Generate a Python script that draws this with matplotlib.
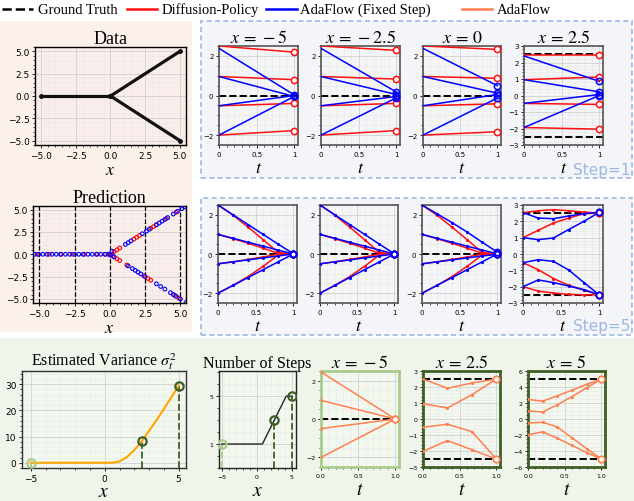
import numpy as np
import matplotlib.pyplot as plt
from matplotlib.patches import Rectangle
from matplotlib.lines import Line2D
from matplotlib.ticker import AutoMinorLocator, MultipleLocator

plt.rcParams['mathtext.fontset'] = 'stix'
SERIF = 'Liberation Serif'

W, H = 634, 502

# ---------------- data ----------------
# Data panel (training data branches)
data_left_x = [-5.0, 0.0]
data_left_y = [0.0, 0.0]
data_up_x = [0.0, 5.0]
data_up_y = [0.0, 5.0]
data_dn_x = [0.0, 5.0]
data_dn_y = [0.0, -5.0]

# Prediction panel scatter
pred_blue_x = [-5.35, -5.05, -4.75, -4.45, -4.1, -3.8, -3.5, -3.15, -2.85, -2.5, -2.2, -1.9,
               -1.55, -1.25, -0.95, -0.65, -0.35, -0.1,
               0.15, 1.1, 1.3, 1.5, 2.3, 2.6, 2.8, 3.3, 3.5, 3.7, 3.9, 4.1, 4.5, 4.8, 5.1, 5.3,
               0.05, 0.3, 1.3, 1.6, 1.8, 2.0, 2.2, 2.5, 3.3, 3.6, 3.9, 4.3, 4.5, 4.7, 5.0, 5.4]
pred_blue_y = [0.0] * 18 + \
              [0.35, 1.1, 1.3, 1.5, 2.3, 2.6, 2.8, 3.3, 3.5, 3.7, 3.9, 4.1, 4.5, 4.8, 5.1, 5.3] + \
              [-0.1, -0.3, -1.3, -1.6, -1.8, -2.0, -2.2, -2.5, -3.3, -3.6, -3.9, -4.3, -4.5, -4.7, -5.0, -5.4]
pred_red_x = [-5.15, -4.3, -3.45, -2.65, -1.8, -0.9, -0.3, 0.0,
              0.3, 0.5, 0.7, 1.7, 1.9, 2.1, 2.9, 3.1, 3.3, 4.0, 4.7,
              0.2, 0.5, 0.7, 1.2, 2.4, 2.7, 2.9, 4.6, 4.9]
pred_red_y = [0.0] * 8 + \
             [0.3, 0.5, 0.7, 1.7, 1.9, 2.1, 2.9, 3.1, 3.3, 4.0, 4.7] + \
             [-0.2, -0.5, -0.7, -1.2, -2.4, -2.7, -2.9, -4.6, -4.9]

# Step=1 panels
cond_titles = ['$x\\,=\\,-5$', '$x\\,=\\,-2.5$', '$x\\,=\\,0$', '$x\\,=\\,2.5$']
t_one = [0.0, 1.0]
s1_red_start = [[2.5, 0.96, -0.52, -2.0], [2.5, 0.96, -0.52, -2.0],
                [2.5, 0.96, -0.52, -2.0], [2.48, 0.96, -0.48, -1.94]]
s1_red_end = [[2.19, 0.8, -0.4, -1.77], [2.28, 0.83, -0.4, -1.77],
              [2.33, 0.87, -0.42, -1.83], [2.48, 1.12, -0.54, -2.04]]
s1_blue_start = [[2.38, 0.96, -0.52, -2.0], [2.38, 0.96, -0.52, -2.0],
                 [2.38, 0.96, -0.52, -2.0], [2.4, 0.96, -0.48, -1.94]]
s1_blue_end = [[0.03, -0.05, 0.0, -0.05], [0.18, 0.05, -0.05, -0.12],
               [0.5, 0.12, 0.05, -0.13], [0.86, 0.22, 0.06, 0.0]]
gt_levels = [[0.0], [0.0], [0.0], [2.5, -2.5]]
ylims = [(-2.5, 2.5), (-2.5, 2.5), (-2.5, 2.5), (-3, 3)]

# Step=5 panels
t_five = [0.0, 0.2, 0.4, 0.6, 0.8, 1.0]
red5_conv = [[2.5, 1.98, 1.37, 0.73, 0.08, 0.0],
             [1.0, 0.78, 0.55, 0.3, 0.03, 0.0],
             [-0.5, -0.4, -0.28, -0.15, -0.01, 0.0],
             [-2.0, -1.6, -1.15, -0.63, -0.05, 0.0]]
blue5_conv = [[2.5, 2.0, 1.5, 1.0, 0.5, 0.02],
              [1.0, 0.8, 0.6, 0.4, 0.2, 0.0],
              [-0.5, -0.4, -0.3, -0.2, -0.1, 0.0],
              [-2.0, -1.6, -1.2, -0.8, -0.4, 0.0]]
blue5_x0 = [[2.5, 2.05, 1.6, 1.12, 0.6, 0.1],
            [1.0, 0.8, 0.6, 0.4, 0.2, 0.02],
            [-0.5, -0.4, -0.3, -0.2, -0.1, -0.02],
            [-2.0, -1.6, -1.2, -0.8, -0.4, 0.0]]
red5_split = [[2.53, 2.65, 2.71, 2.65, 2.57, 2.5],
              [1.0, 1.45, 1.9, 2.2, 2.47, 2.5],
              [-0.53, -0.96, -1.5, -1.92, -2.22, -2.5],
              [-2.0, -2.27, -2.39, -2.47, -2.5, -2.5]]
blue5_split = [[2.53, 2.2, 2.16, 2.33, 2.47, 2.55],
               [1.0, 0.88, 0.98, 1.5, 2.0, 2.55],
               [-0.53, -0.35, -0.45, -0.98, -1.75, -2.5],
               [-2.0, -1.59, -1.75, -1.96, -2.18, -2.5]]

# Bottom row
var_x = [-5.0, 0.0, 0.5, 1.0, 1.5, 2.0, 2.5, 3.0, 3.5, 4.0, 4.5, 5.0]
var_y = [0.0, 0.0, 0.0, 0.5, 2.2, 4.8, 8.2, 12.2, 16.2, 20.5, 24.9, 29.4]
mark_x = [-5.0, 2.5, 5.0]
var_mark_y = [0.0, 8.2, 29.4]
steps_x = [-5.0, 0.8, 4.2, 5.0]
steps_y = [1, 1, 5, 5]
steps_mark_y = [1, 3, 5]

ada_t_a = [0.0, 1.0]
ada_a = [[2.45, 0.0], [0.97, 0.0], [-0.5, 0.0], [-2.0, 0.0]]
ada_t_b = [0.0, 0.333, 0.667, 1.0]
ada_b = [[2.5, 1.92, 2.25, 2.5], [0.96, 0.69, 1.52, 2.5],
         [-0.52, -0.33, -0.79, -2.5], [-2.02, -1.35, -1.92, -2.5]]
ada_t_c = [0.0, 0.2, 0.4, 0.6, 0.8, 1.0]
ada_c = [[2.44, 2.23, 2.9, 3.6, 4.34, 5.0], [1.03, 0.87, 1.78, 2.8, 3.9, 5.0],
         [-0.5, -0.41, -1.0, -2.36, -3.7, -5.0], [-1.98, -1.6, -2.4, -3.3, -4.2, -5.0]]

RED = '#ff1010'
BLUE = '#0000ff'
CORAL = '#ff7f50'
LGREEN = '#a9cc8c'
DGREEN = '#3d5f25'

fig = plt.figure(figsize=(W / 100, H / 100), dpi=100)


def px_axes(l, t, r, b):
    return fig.add_axes([l / W, 1 - b / H, (r - l) / W, (b - t) / H])


def bg(l, t, r, b, fc, ec='none', ls='-'):
    fig.add_artist(Rectangle((l / W, 1 - b / H), (r - l) / W, (b - t) / H,
                             transform=fig.transFigure, facecolor=fc, edgecolor=ec,
                             linestyle=ls, lw=1.2, zorder=-5))


bg(0, 22, 192, 333, '#fcf0eb')
bg(201, 22, 632, 179, '#f3f5f8', '#9db7e2', (0, (3, 2)))
bg(201, 199, 632, 336, '#f3f5f8', '#9db7e2', (0, (3, 2)))
bg(0, 339, 634, 502, '#eff5ea')


def style(ax, fs, face, spine='#555555', slw=1.2):
    ax.set_facecolor(face)
    ax.xaxis.set_minor_locator(AutoMinorLocator())
    ax.yaxis.set_minor_locator(AutoMinorLocator())
    ax.grid(True, which='major', color='#d0d0d0', lw=0.6)
    ax.grid(True, which='minor', color='#e8e8e8', lw=0.4)
    ax.set_axisbelow(True)
    ax.tick_params(labelsize=fs, length=2.5, width=0.6, pad=1.5)
    ax.tick_params(which='minor', length=1.5, width=0.5)
    for s in ax.spines.values():
        s.set_color(spine)
        s.set_linewidth(slw)


# ---- Data panel
ax = px_axes(35, 48, 186, 146)
style(ax, 6.5, '#fbeeea', 'black', 1.0)
for xs, ys in [(data_left_x, data_left_y), (data_up_x, data_up_y), (data_dn_x, data_dn_y)]:
    ax.plot(xs, ys, color='#111111', lw=2.3, marker='o', ms=2.5, solid_capstyle='round')
ax.set_xlim(-5.45, 5.45)
ax.set_ylim(-5.5, 5.5)
ax.set_xticks([-5, -2.5, 0, 2.5, 5])
ax.set_yticks([-5, -2.5, 0, 2.5, 5])
ax.set_title('Data', family=SERIF, fontsize=13, pad=3)
ax.set_xlabel('$x$', fontsize=13, labelpad=0)

# ---- Prediction panel
ax = px_axes(33, 207, 186, 304)
style(ax, 6.5, '#fbeeea', 'black', 1.0)
for xv in [-5, -2.5, 0, 2.5, 5]:
    ax.axvline(xv, color='black', ls='--', lw=0.9, zorder=1)
ax.scatter(pred_red_x, pred_red_y, s=7, facecolors='none', edgecolors='red', lw=0.8, zorder=3)
ax.scatter(pred_blue_x, pred_blue_y, s=7, facecolors='none', edgecolors='blue', lw=0.8, zorder=4)
ax.set_xlim(-5.45, 5.4)
ax.set_ylim(-5.45, 5.4)
ax.set_xticks([-5, -2.5, 0, 2.5, 5])
ax.set_yticks([-5, -2.5, 0, 2.5, 5])
ax.set_title('Prediction', family=SERIF, fontsize=13, pad=3)
ax.set_xlabel('$x$', fontsize=13, labelpad=0)

# ---- Step=1 row
s1_l = [219, 321, 423, 524]
s1_r = [298, 400, 501, 603]
for i in range(4):
    ax = px_axes(s1_l[i], 47, s1_r[i], 146)
    style(ax, 5, '#f4f5f7')
    for lv in gt_levels[i]:
        ax.axhline(lv, color='black', ls='--', lw=1.4, zorder=2)
    for a, b in zip(s1_red_start[i], s1_red_end[i]):
        ax.plot(t_one, [a, b], color=RED, lw=1.1, zorder=3)
        ax.plot(1, b, 'o', ms=4.5, mfc='white', mec=RED, mew=1.1, zorder=5)
    for a, b in zip(s1_blue_start[i], s1_blue_end[i]):
        ax.plot(t_one, [a, b], color=BLUE, lw=1.1, zorder=4)
        ax.plot(1, b, 'o', ms=4.5, mfc='none', mec=BLUE, mew=1.1, zorder=6)
    ax.set_xlim(0, 1.05)
    ax.set_ylim(*ylims[i])
    ax.set_xticks([0, 0.5, 1])
    ax.set_xticklabels(['0', '0.5', '1'])
    ax.yaxis.set_major_locator(MultipleLocator(2 if i < 3 else 1))
    ax.set_title(cond_titles[i], fontsize=13, pad=3)
    ax.set_xlabel('$t$', fontsize=13, labelpad=1)
fig.text(630 / W, 1 - 171 / H, 'Step=1', color='#9db7e2', fontsize=11, ha='right', va='center')

# ---- Step=5 row
s5_l = [218, 320, 422, 523]
s5_r = [297, 398, 501, 603]
for i in range(4):
    ax = px_axes(s5_l[i], 206, s5_r[i], 304)
    style(ax, 5, '#f4f5f7')
    for lv in gt_levels[i]:
        ax.axhline(lv, color='black', ls='--', lw=1.4, zorder=2)
    if i < 3:
        reds = red5_conv
        blues = blue5_x0 if i == 2 else blue5_conv
    else:
        reds = red5_split
        blues = blue5_split
    for ys in reds:
        ax.plot(t_five, ys, color=RED, lw=1.1, marker='.', ms=2.5, zorder=3)
        ax.plot(1, ys[-1], 'o', ms=4.5, mfc='white', mec=RED, mew=1.1, zorder=5)
    for ys in blues:
        ax.plot(t_five, ys, color=BLUE, lw=1.1, marker='.', ms=2.5, zorder=4)
        ax.plot(1, ys[-1], 'o', ms=4.5, mfc='none', mec=BLUE, mew=1.1, zorder=6)
    ax.set_xlim(0, 1.05)
    ax.set_ylim(*ylims[i])
    ax.set_xticks([0, 0.5, 1])
    ax.set_xticklabels(['0', '0.5', '1'])
    ax.yaxis.set_major_locator(MultipleLocator(2 if i < 3 else 1))
    ax.set_xlabel('$t$', fontsize=13, labelpad=1)
fig.text(630 / W, 1 - 327 / H, 'Step=5', color='#9db7e2', fontsize=11, ha='right', va='center')

# ---- Bottom: estimated variance
ax = px_axes(22, 372, 186, 469)
style(ax, 6.5, '#f3f8ef', '#333333', 1.0)
ax.plot(var_x, var_y, color='#ffa500', lw=1.5, zorder=3)
ax.set_xlim(-5.6, 5.5)
ax.set_ylim(-2, 35)
ax.set_xticks([-5, 0, 5])
ax.set_yticks([0, 10, 20, 30])
for xv, yv, c in zip(mark_x, var_mark_y, [LGREEN, DGREEN, DGREEN]):
    ax.plot([xv, xv], [-2, yv], color=c, ls='--', lw=1.3, zorder=2)
    ax.plot(xv, yv, 'o', ms=6, mfc='none', mec=c, mew=1.6, zorder=4)
ax.set_title('Estimated Variance $\\sigma_t^2$', family=SERIF, fontsize=11.5, pad=3)
ax.set_xlabel('$x$', fontsize=14, labelpad=-1)

# ---- Bottom: number of steps
ax = px_axes(219, 372, 296, 469)
style(ax, 4.5, '#f3f8ef', '#222222', 1.0)
ax.plot(steps_x, steps_y, color='#222222', lw=1.0, zorder=3)
ax.set_xlim(-5.4, 5.6)
ax.set_ylim(-1, 7.1)
ax.set_xticks([-5, 0, 5])
ax.set_yticks([1, 5])
for xv, yv, c in zip(mark_x, steps_mark_y, [LGREEN, DGREEN, DGREEN]):
    ax.plot([xv, xv], [-1, yv], color=c, ls='--', lw=1.3, zorder=2)
    ax.plot(xv, yv, 'o', ms=6, mfc='none', mec=c, mew=1.6, zorder=4)
ax.set_title('Number of Steps', family=SERIF, fontsize=11.5, pad=3)
ax.set_xlabel('$x$', fontsize=14, labelpad=1)

# ---- Bottom: AdaFlow panels
ada_specs = [
    (321, 399, ada_t_a, ada_a, (-2.5, 2.5), 2, [0.0], LGREEN, '$x\\,=\\,-5$'),
    (423, 500, ada_t_b, ada_b, (-3, 3), 1, [2.5, -2.5], DGREEN, '$x\\,=\\,2.5$'),
    (528, 605, ada_t_c, ada_c, (-6, 6), 2, [5, -5], DGREEN, '$x\\,=\\,5$'),
]
for l, r, ts, lines, yl, step, gts, sc, ttl in ada_specs:
    ax = px_axes(l, 372, r, 468)
    style(ax, 4.5, '#f3f8ef', sc, 2.0)
    for lv in gts:
        ax.axhline(lv, color='black', ls='--', lw=1.4, zorder=2)
    for ys in lines:
        ax.plot(ts, ys, color=CORAL, lw=1.1, marker='.', ms=2.5, zorder=3)
        ax.plot(1, ys[-1], 'o', ms=4.5, mfc='white', mec=CORAL, mew=1.1, zorder=5)
    ax.set_xlim(0, 1.05)
    ax.set_ylim(*yl)
    ax.set_xticks([0, 0.5, 1.0])
    ax.yaxis.set_major_locator(MultipleLocator(step))
    ax.set_title(ttl, fontsize=13, pad=3)
    ax.set_xlabel('$t$', fontsize=14, labelpad=1)

# ---- Legend
leg = [('Ground Truth', 'black', '--', 2, 33, 38),
       ('Diffusion-Policy', RED, '-', 127, 157, 162),
       ('AdaFlow (Fixed Step)', BLUE, '-', 266, 297, 300),
       ('AdaFlow', CORAL, '-', 462, 492, 497)]
for txt, c, ls, x0, x1, xt in leg:
    fig.add_artist(Line2D([x0 / W, x1 / W], [1 - 10 / H, 1 - 10 / H], color=c, ls=ls,
                          lw=1.8, transform=fig.transFigure))
    fig.text(xt / W, 1 - 10 / H, txt, family=SERIF, fontsize=10.5, va='center', ha='left')

fig.savefig('out.png', dpi=100)
